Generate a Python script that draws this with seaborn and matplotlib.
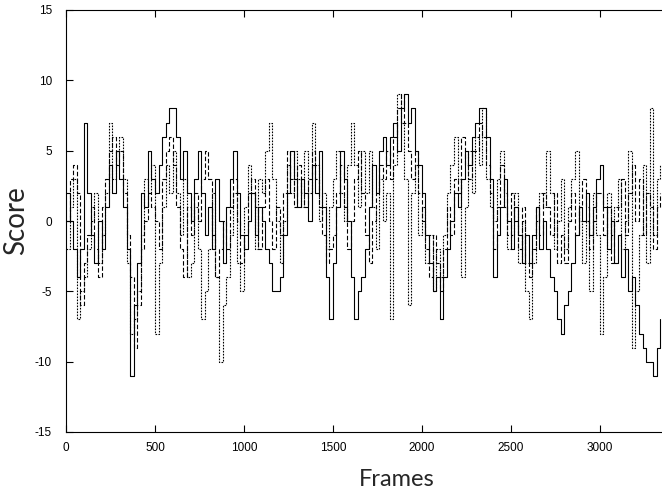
import numpy as np
import pandas as pd
import matplotlib
matplotlib.use("Agg")
import matplotlib.pyplot as plt
import seaborn as sns

# frames sampled every 20
frames = np.arange(0, 3341, 20)

# solid line
score_a = [2, 0, -2, -4, -2,   7, 2, -1, -3, 0,   -2, 1, 4, 2, 5,   3, 1, -2, -11, -6,
           -3, 2, 1, 5, 3,     2, 4, 6, 7, 8,     8, 6, 3, 5, 2,    0, 3, 5, 2, -1,
           1, -2, 3, 0, -3,    1, 3, 5, 2, -1,    -2, 0, 2, -1, 1,  0, -2, -3, -5, -5,
           -4, -1, 2, 5, 3,    1, 3, 2, 0, 4,     2, 5, 1, -4, -7,  -3, 1, 5, 3, 0,
           -4, -7, -5, -4, -2, 1, 4, 2, 5, 6,     4, 6, 7, 5, 8,    9, 7, 8, 5, 4,
           2, -1, -3, -5, -4,  -7, -4, -2, 0, 2,  1, 3, 5, 4, 6,    7, 8, 8, 6, 3,
           -4, -1, 1, 3, 0,    -2, 1, -1, -3, -1, -3, -1, 1, -2, 0, -2, -4, -5, -7, -8,
           -6, -5, -3, -1, 1,  0, 2, -1, 1, 3,    4, 1, -2, 0, -3,  -1, -4, -2, -5, -4,
           -6, -8, -9, -10, -10, -11, -9, -7]
# dashed line
score_b = [0, 3, 4, 2, -6,    -3, -1, 1, -2, -4,  1, 3, 5, 6, 4,    5, 2, -1, -4, -9,
           -6, -2, 0, 2, 1,   0, -2, 3, 5, 6,     4, 1, -2, -4, 1,  -1, 2, 0, 3, 5,
           3, -1, -4, -2, 0,  -2, 1, 3, 0, -3,    -1, 2, 3, 1, -2,  1, 3, 0, -2, 1,
           -1, 2, 5, 3, 1,    4, 2, 1, 3, 5,      3, 1, -1, -3, -2, -1, 2, 4, 1, -2,
           0, 3, 5, 2, -1,    -3, 0, 2, 4, 3,     5, 3, 6, 8, 9,    7, 5, 3, 5, 2,
           0, -2, -4, -1, -3, -5, -2, 1, -1, 3,   2, 6, 4, 3, 5,    5, 7, 6, 4, 2,
           -2, 1, 4, 2, -1,   2, 0, -2, 1, -3,    -4, -2, 1, -1, 2, 1, -1, 2, -3, -1,
           -3, 0, 2, -1, 1,   3, 1, -2, 0, 2,     2, -1, 1, -3, 0,  1, 3, -1, 2, 4,
           0, 3, -1, 2, 1,    -2, 1, 2]
# dotted line
score_c = [-2, 1, 3, -7, -5,  -4, -2, 0, 2, -3,   -1, 2, 7, 3, 5,   6, 3, -3, -8, -7,
           -5, -1, 3, 2, 4,   -8, -3, 1, 4, 2,    5, 2, -1, 3, -4,  -3, 1, -2, -7, -5,
           -2, 2, -4, -10, -6, -4, -1, 2, -3, -5, 1, 4, 2, -2, 3,   2, 5, 7, 3, 0,
           -3, 0, 4, 2, 5,    3, 1, 5, 2, 7,      4, 0, 2, -2, 1,   3, 5, 2, 0, 4,
           7, 4, 1, 5, 2,     5, 1, -2, 3, 0,     2, -7, 4, 9, 7,   3, -6, 2, 4, -1,
           1, -3, -1, -5, -2, -4, -1, 2, 4, 6,    3, -4, 1, 5, 2,   6, 4, 8, 3, 1,
           0, 3, 5, 1, -2,    -1, 2, -3, 0, -5,   -7, -3, 0, 2, 1,  5, 2, -2, 0, 3,
           -2, 1, 3, 5, 0,    -3, 0, -5, 2, -1,   -8, -4, 2, -1, 1, 3, -2, 0, 5, -9,
           -5, -1, 4, -3, 8,  -1, 3, 4]

sns.set_style("ticks")
plt.rcParams['font.family'] = ['Liberation Sans', 'DejaVu Sans']
plt.rcParams['axes.unicode_minus'] = False

fig = plt.figure(figsize=(6.62, 4.95), dpi=100)
# right edge of the frame falls outside the picture, as in the original
ax = fig.add_axes([66 / 662, (495 - 432) / 495, 1.0, (432 - 10) / 495])

sns.lineplot(x=frames, y=score_a, ax=ax, color='black', lw=0.8, drawstyle='steps-post')
sns.lineplot(x=frames, y=score_b, ax=ax, color='black', lw=0.8, drawstyle='steps-post',
             linestyle=(0, (4, 2)))
sns.lineplot(x=frames, y=score_c, ax=ax, color='black', lw=0.8, drawstyle='steps-post',
             linestyle=(0, (1.5, 1.2)))

ax.set_xlim(0, 3720)
ax.set_ylim(-15, 15)
ax.set_xticks([0, 500, 1000, 1500, 2000, 2500, 3000])
ax.set_yticks([-15, -10, -5, 0, 5, 10, 15])
ax.tick_params(direction='in', top=True, right=False, length=5, width=0.8,
               labelsize=8.5, colors='black')
ax.tick_params(axis='x', pad=7)
ax.tick_params(axis='y', pad=10)
ax.spines['right'].set_visible(False)
for s in ['left', 'top', 'bottom']:
    ax.spines[s].set_linewidth(0.8)
    ax.spines[s].set_color('black')

ax.set_xlabel('Frames', fontsize=17, family=['Lato', 'DejaVu Sans'], labelpad=11)
ax.set_ylabel('Score', fontsize=20, family=['Lato', 'DejaVu Sans'], labelpad=4)

fig.savefig('out.png', dpi=100)
